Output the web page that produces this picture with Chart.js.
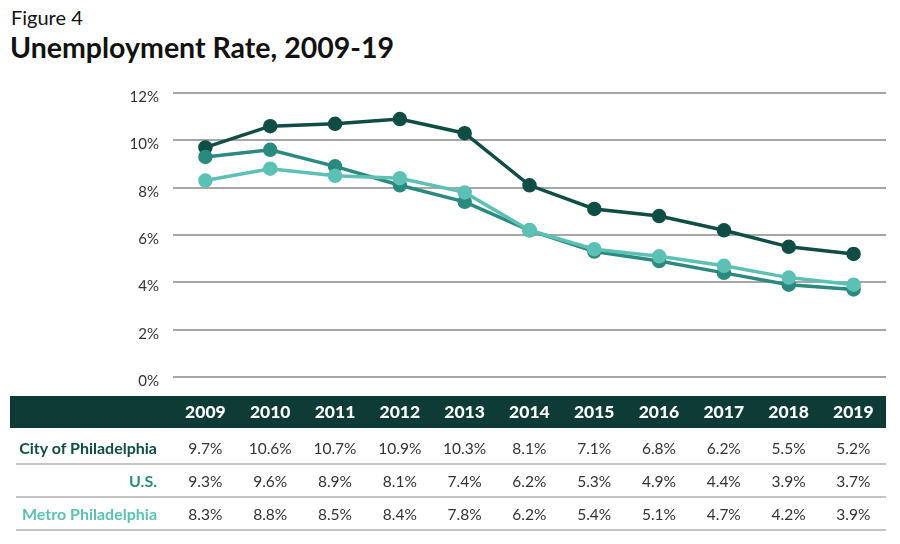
<!DOCTYPE html>
<html>
<head>
<meta charset="utf-8">
<script src="https://cdn.jsdelivr.net/npm/chart.js@4"></script>
<style>
  body { margin: 0; width: 900px; height: 544px; background: #fff; font-family: Lato, "Open Sans", sans-serif; position: relative; overflow: hidden; }
  #fig { position: absolute; left: 11px; top: 5px; font-size: 20px; color: #111; }
  #title { position: absolute; left: 10px; top: 30px; font-size: 28.5px; font-weight: bold; color: #111; }
  #wrap { position: absolute; left: 0; top: 60px; width: 900px; height: 340px; }
  #bar { position: absolute; left: 10px; top: 396px; width: 876px; height: 32px; background: #0f3b36; }
  #tbl { position: absolute; left: 16px; top: 396px; border-collapse: collapse; table-layout: fixed; }
  #tbl td, #tbl th { padding: 0; text-align: center; font-size: 15.5px; }
  #tbl th { height: 36px; line-height: 32px; vertical-align: top; color: #fff; font-weight: 900; font-size: 17.5px; }
  #tbl td { height: 31px; color: #333; border-bottom: 2px solid #c4c4c4; }
  #tbl .lab { text-align: right; padding-right: 16px; font-weight: bold; font-size: 16px; }
</style>
</head>
<body>
<div id="fig">Figure 4</div>
<div id="title">Unemployment Rate, 2009-19</div>
<div id="wrap"><canvas id="chart"></canvas></div>
<div id="bar"></div>
<table id="tbl"></table>
<script>
const years = ["2009", "2010", "2011", "2012", "2013", "2014", "2015", "2016", "2017", "2018", "2019"];
const cityPhila = [9.7, 10.6, 10.7, 10.9, 10.3, 8.1, 7.1, 6.8, 6.2, 5.5, 5.2];
const us = [9.3, 9.6, 8.9, 8.1, 7.4, 6.2, 5.3, 4.9, 4.4, 3.9, 3.7];
const metroPhila = [8.3, 8.8, 8.5, 8.4, 7.8, 6.2, 5.4, 5.1, 4.7, 4.2, 3.9];
const yTicks = [0, 2, 4, 6, 8, 10, 12];

const series = [
  { label: "City of Philadelphia", data: cityPhila, color: "#0f4d45" },
  { label: "U.S.", data: us, color: "#2b8a7f" },
  { label: "Metro Philadelphia", data: metroPhila, color: "#5cc1b4" }
];

function buildTable() {
  const tbl = document.getElementById("tbl");
  let html = '<colgroup><col style="width:157px">' + years.map(() => '<col style="width:64.8px">').join("") + '</colgroup>';
  html += "<tr><th></th>" + years.map(y => `<th>${y}</th>`).join("") + "</tr>";
  series.forEach(s => {
    html += `<tr><td class="lab" style="color:${s.color}">${s.label}</td>` +
      s.data.map(v => `<td>${v.toFixed(1)}%</td>`).join("") + "</tr>";
  });
  tbl.innerHTML = html;
}

function renderChart() {
  // draw order: metro underneath, city on top
  const datasets = series.slice().reverse().map(s => ({
    label: s.label,
    data: s.data,
    borderColor: s.color,
    backgroundColor: s.color,
    borderWidth: 3.5,
    pointRadius: 5.5,
    pointHoverRadius: 5.5,
    tension: 0
  }));

  new Chart(document.getElementById("chart"), {
    type: "line",
    data: { labels: years, datasets },
    options: {
      responsive: true,
      maintainAspectRatio: false,
      animation: false,
      layout: { padding: { top: 33, bottom: 22, right: 14 } },
      scales: {
        x: { display: false, offset: true },
        y: {
          min: 0,
          max: 12,
          afterBuildTicks: axis => { axis.ticks = yTicks.map(v => ({ value: v })); },
          afterFit: axis => { axis.width = 173; },
          ticks: { callback: v => v + "%", color: "#333", font: { family: "Lato", size: 15 }, padding: 14, labelOffset: 4 },
          grid: { color: "#a6a6a6", lineWidth: 2, drawTicks: false },
          border: { display: false }
        }
      },
      plugins: { legend: { display: false }, tooltip: { enabled: false } }
    }
  });
}

buildTable();
renderChart();
</script>
</body>
</html>
